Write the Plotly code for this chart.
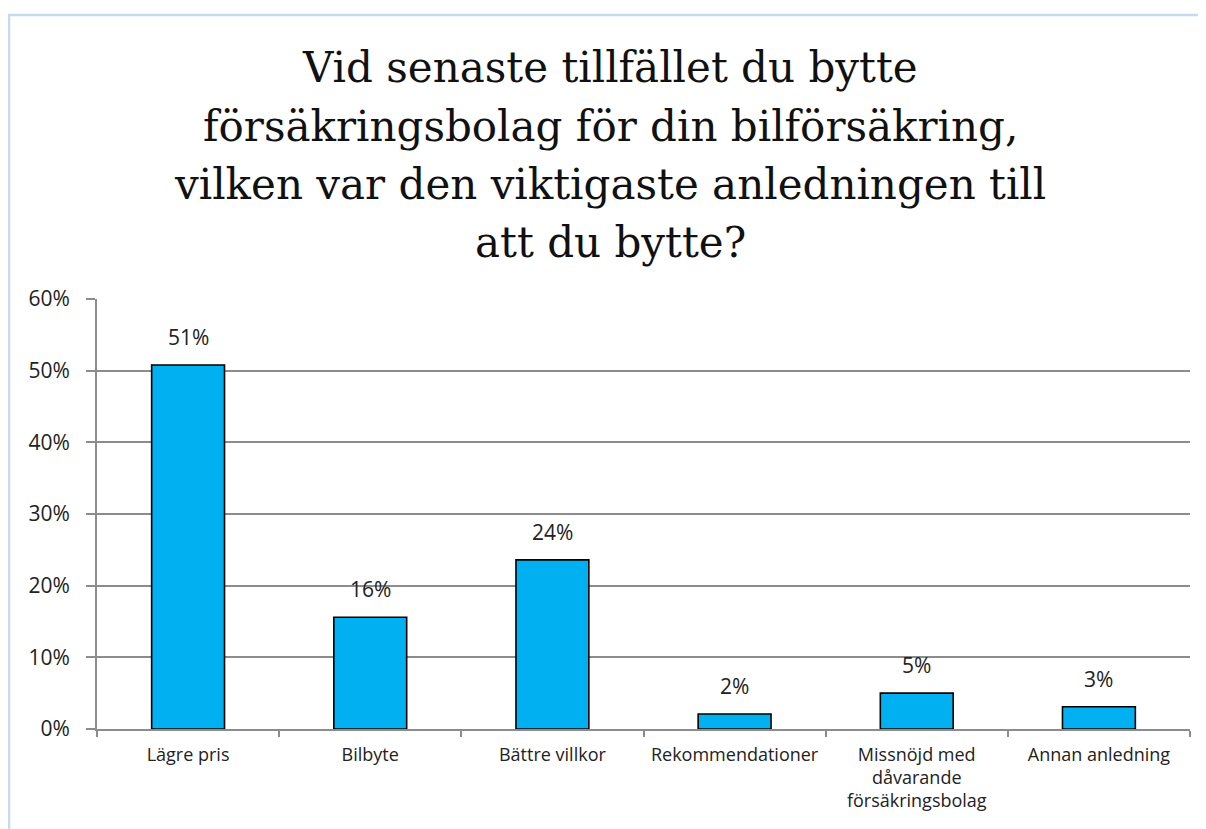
import plotly.graph_objects as go

categories = ["Lägre pris", "Bilbyte", "Bättre villkor", "Rekommendationer",
              "Missnöjd med<br>dåvarande<br>försäkringsbolag", "Annan anledning"]
values = [0.508, 0.156, 0.236, 0.021, 0.050, 0.031]
title_lines = ["Vid senaste tillfället du bytte",
               "försäkringsbolag för din bilförsäkring,",
               "vilken var den viktigaste anledningen till",
               "att du bytte?"]
title_baselines = [80, 139, 197, 255]  # screen px

W, H = 1206, 829
OFF = 8  # page body offset
# target plot area in screen px: x 97..1190, y 299..729
L = 97 - OFF
R = W - (1190 - OFF)
T = 299 - OFF
B = H - (729 - OFF)
pw, ph = W - L - R, H - T - B

def sx(px):
    return (px - OFF - L) / pw

def sy(py):
    return (H - B - (py - OFF)) / ph

SANS = "Open Sans, Liberation Sans, sans-serif"
FS_TITLE = 42
annotations = [dict(
    text=line, xref="paper", yref="paper",
    x=sx(610), y=sy(b - 0.3 * FS_TITLE), xanchor="center", yanchor="middle",
    showarrow=False, align="center",
    font=dict(family="DejaVu Serif, Liberation Serif, serif", size=FS_TITLE, color="#111"),
) for line, b in zip(title_lines, title_baselines)]

# value labels above bars
annotations += [dict(
    x=c, y=v, xref="x", yref="y", text=f"{round(v * 100)}%",
    showarrow=False, xanchor="center", yanchor="bottom", yshift=12,
    font=dict(family=SANS, size=21, color="#222"),
) for c, v in zip(categories, values)]

fig = go.Figure(go.Bar(
    x=categories, y=values, width=0.4,
    marker=dict(color="#00b0f0", line=dict(color="black", width=1.6)),
    hoverinfo="x+y",
))

fig.update_layout(
    width=W, height=H,
    margin=dict(l=L, r=R, t=T, b=B),
    paper_bgcolor="white", plot_bgcolor="white",
    showlegend=False,
    font=dict(family=SANS, color="#222"),
    annotations=annotations,
    shapes=[dict(
        type="rect", xref="paper", yref="paper",
        x0=sx(9), x1=sx(1240),
        y0=sy(880), y1=sy(15),
        line=dict(color="#c6d9f1", width=2.5), fillcolor="rgba(0,0,0,0)", layer="below",
    )],
)

fig.update_yaxes(
    range=[0, 0.6], dtick=0.1, tickformat=".0%",
    showgrid=True, gridcolor="#8c8c8c", gridwidth=1.8,
    showline=True, linecolor="#8c8c8c", linewidth=1.8,
    ticks="outside", ticklen=9, tickcolor="#8c8c8c", tickwidth=1.8,
    ticklabelstandoff=12,
    tickfont=dict(size=21, color="#222"), zeroline=False,
)
fig.update_xaxes(
    showline=True, linecolor="#8c8c8c", linewidth=1.8,
    ticks="outside", ticklen=6, tickcolor="#8c8c8c", tickwidth=1.8,
    tickson="boundaries", showgrid=False,
    ticklabelstandoff=8,
    tickfont=dict(size=18, color="#222"), tickangle=0,
)

fig.write_html("out.html")
